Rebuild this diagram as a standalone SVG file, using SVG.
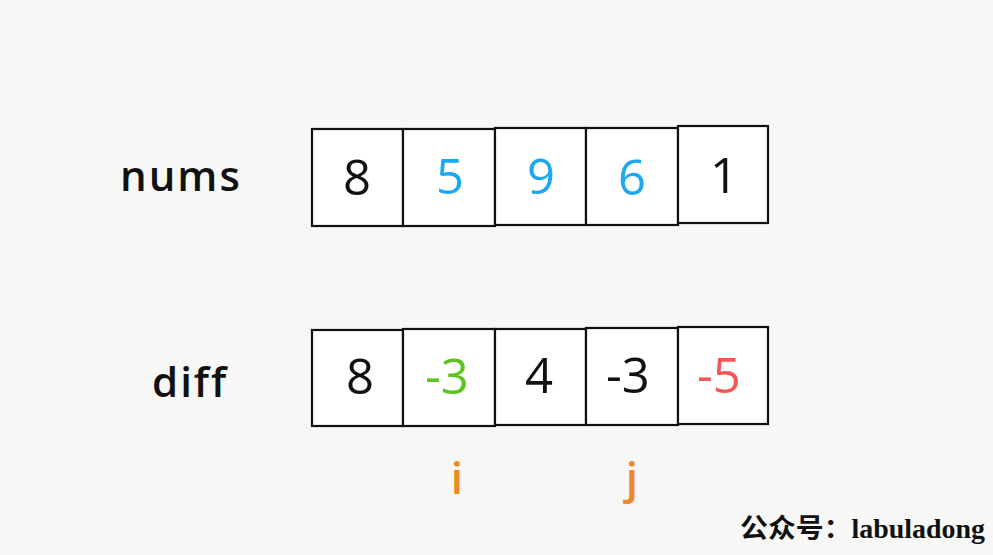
<svg xmlns="http://www.w3.org/2000/svg" width="993" height="555" viewBox="0 0 993 555">
<style>
.cell{fill:#ffffff;stroke:#111;stroke-width:2.2}
.num{font-family:"Open Sans","Liberation Sans",sans-serif;font-size:49px;text-anchor:middle}
.lbl{font-family:"Open Sans","Liberation Sans",sans-serif;font-size:42px;font-weight:600;letter-spacing:2px;fill:#111}
.ptr{font-family:"Open Sans","Liberation Sans",sans-serif;font-size:44px;font-weight:600;fill:#f0862a;text-anchor:middle}
.k{fill:#111}.b{fill:#1ea7f2}.g{fill:#5cc41f}.r{fill:#f45555}
</style>
<rect width="993" height="555" fill="#f7f7f5"/>
<g id="label-nums"><text class="lbl" x="120" y="191">nums</text></g>
<g id="label-diff"><text class="lbl" x="152" y="397">diff</text></g>
<g id="nums">
<rect class="cell" x="312" y="129" width="91" height="97"/>
<rect class="cell" x="403" y="129" width="92" height="97"/>
<rect class="cell" x="495" y="128" width="91" height="97"/>
<rect class="cell" x="586" y="128" width="92" height="97"/>
<rect class="cell" x="678" y="126" width="90" height="97"/>
<text class="num k" x="357" y="195">8</text>
<text class="num b" x="450" y="194">5</text>
<text class="num b" x="541" y="194">9</text>
<text class="num b" x="632" y="195">6</text>
<text class="num k" x="724" y="193">1</text>
</g>
<g id="diff">
<rect class="cell" x="312" y="330" width="91" height="96"/>
<rect class="cell" x="403" y="329" width="92" height="97"/>
<rect class="cell" x="495" y="329" width="91" height="96"/>
<rect class="cell" x="586" y="328" width="92" height="97"/>
<rect class="cell" x="678" y="327" width="90" height="97"/>
<text class="num k" x="360" y="394">8</text>
<text class="num g" x="447" y="394">-3</text>
<text class="num k" x="539" y="393">4</text>
<text class="num k" x="628" y="393">-3</text>
<text class="num r" x="719" y="393">-5</text>
</g>
<g id="pointer-i"><text class="ptr" x="457" y="494">i</text></g>
<g id="pointer-j"><text class="ptr" x="632" y="494">j</text></g>
<g id="connectors"></g>
<g id="watermark"><text x="740" y="538" font-family="'Liberation Serif','Noto Sans CJK SC',serif" font-size="27" font-weight="bold" fill="#111" textLength="245" lengthAdjust="spacingAndGlyphs">公众号：labuladong</text></g>
</svg>
